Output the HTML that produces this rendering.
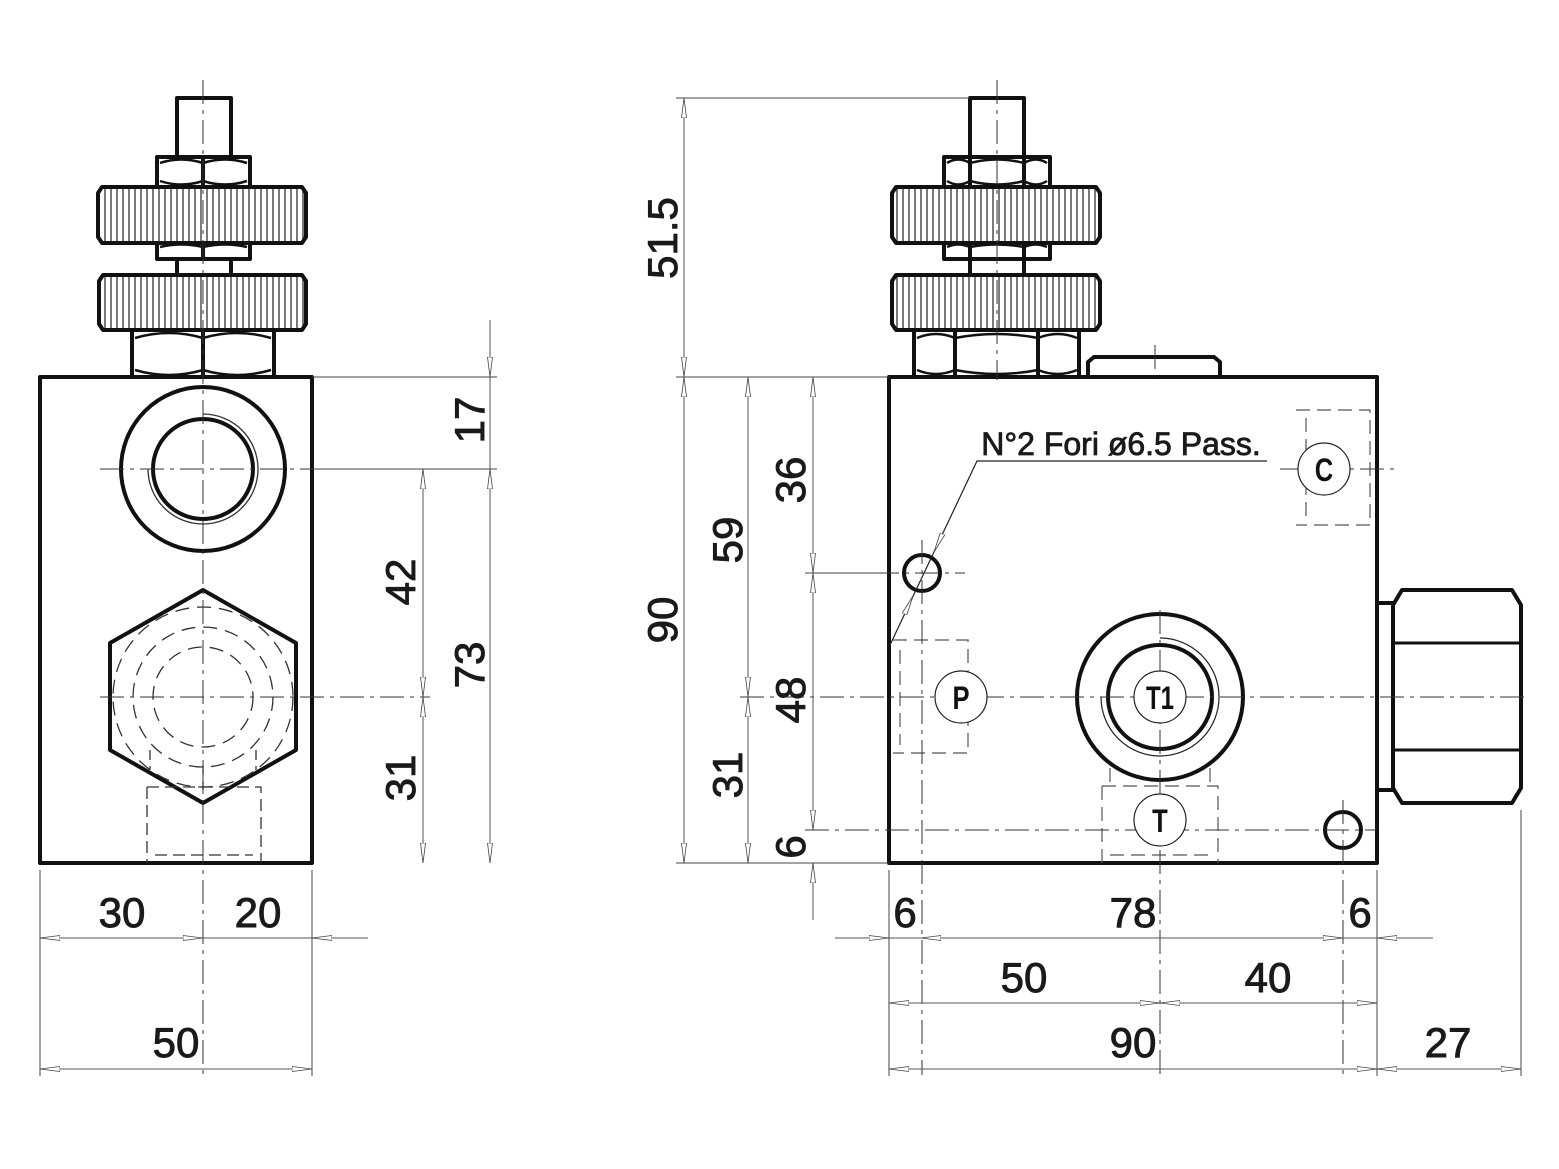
<!DOCTYPE html>
<html><head><meta charset="utf-8"><style>html,body{margin:0;padding:0;background:#fff}svg{display:block}</style></head>
<body>
<svg width="1559" height="1169" viewBox="0 0 1559 1169" xmlns="http://www.w3.org/2000/svg" font-family="Liberation Sans, sans-serif">
<defs>
<pattern id="kn" width="6" height="10" patternUnits="userSpaceOnUse"><rect width="6" height="10" fill="#fff"/><line x1="3" y1="0" x2="3" y2="10" stroke="#222" stroke-width="1.2"/></pattern>
<marker id="a" viewBox="0 0 20 6" refX="20" refY="3" markerWidth="20" markerHeight="6" markerUnits="userSpaceOnUse" orient="auto-start-reverse"><path d="M0,0.5 L20,3 L0,5.5 Z" fill="#fff" stroke="#444" stroke-width="0.8"/></marker>
</defs>
<g fill="none" stroke="#111" stroke-width="4" stroke-linejoin="round">
<rect x="40" y="377" width="272" height="486"/>
<rect x="177" y="98" width="54" height="59"/>
<path d="M157,157 H250 V187 H157 Z M203,157 V187"/>
<path d="M102,187 H302 L306,193 V237 L302,243 H102 L98,237 V193 Z" fill="url(#kn)"/>
<path d="M157,243 H250 V259 H157 Z M203,243 V259"/>
<rect x="177" y="259" width="54" height="16"/>
<path d="M103,275 H302 L306,281 V324 L302,330 H103 L99,324 V281 Z" fill="url(#kn)"/>
<path d="M132,330 H274 V377 H132 Z M203,330 V377"/>
<circle cx="203" cy="469" r="82"/>
<circle cx="203" cy="469" r="50"/>
<path d="M203,590 L296,643 V750 L203,803 L110,750 V643 Z"/>
</g>
<g fill="none" stroke="#111" stroke-width="2.5">
<path d="M160,163 Q181,156 203,163 Q225,156 247,163 M160,181 Q181,188 203,181 Q225,188 247,181"/>
<path d="M160,247 Q181,242 203,247 Q225,242 247,247"/>
<path d="M135,338 Q169,328 203,338 Q237,328 271,338 M135,370 Q169,380 203,370 Q237,380 271,370"/>
</g>
<g fill="none" stroke="#333" stroke-width="1.3">
<path d="M203,414 A55,55 0 1 1 148,469"/>
<path d="M150,750 V770 M256,750 V770 M203,765 V790" stroke-dasharray="10,6"/>
<circle cx="203" cy="697" r="90" stroke-dasharray="14,8"/>
<circle cx="203" cy="697" r="70" stroke-dasharray="14,8"/>
<circle cx="203" cy="697" r="50" stroke-dasharray="14,8"/>
<path d="M147,787 H261 V863 M147,787 V863 M155,855 H253" stroke-dasharray="12,6"/>
</g>
<g fill="none" stroke="#111" stroke-width="4" stroke-linejoin="round">
<rect x="889" y="377" width="488" height="486"/>
<rect x="970" y="98" width="54" height="59"/>
<path d="M944,157 H1050 V187 H944 Z M970,157 V187 M1024,157 V187"/>
<path d="M896,187 H1096 L1100,193 V237 L1096,243 H896 L892,237 V193 Z" fill="url(#kn)"/>
<path d="M944,243 H1050 V259 H944 Z M970,243 V259 M1024,243 V259"/>
<rect x="970" y="259" width="54" height="16"/>
<path d="M896,275 H1096 L1100,281 V324 L1096,330 H896 L892,324 V281 Z" fill="url(#kn)"/>
<path d="M914,330 H1079 V377 H914 Z M955,330 V377 M1038,330 V377"/>
<path d="M1088,377 V362 L1094,357 H1214 L1220,362 V377"/>
<circle cx="1160" cy="697" r="83"/>
<circle cx="1160" cy="697" r="52"/>
<circle cx="922" cy="573" r="18"/>
<circle cx="1343" cy="830" r="18"/>
<path d="M1377,603 H1393 V790 H1377"/>
<path d="M1402,590 H1512 L1521,605 V788 L1512,803 H1402 L1393,788 V605 Z"/>
<path d="M1393,643 H1521 M1393,750 H1521" stroke-width="3"/>
</g>
<g fill="none" stroke="#111" stroke-width="2.5">
<path d="M947,163 Q958,156 970,163 Q997,156 1024,163 Q1036,156 1047,163 M947,181 Q958,188 970,181 Q997,188 1024,181 Q1036,188 1047,181"/>
<path d="M947,247 Q958,242 970,247 Q997,242 1024,247 Q1036,242 1047,247"/>
<path d="M917,338 Q936,330 955,338 Q997,330 1038,338 Q1058,330 1077,338 M917,370 Q936,378 955,370 Q997,378 1038,370 Q1058,378 1077,370"/>
</g>
<g fill="none" stroke="#222" stroke-width="1.2">
<path d="M1160,638 A59,59 0 1 1 1101,697"/>
<g stroke="#555" stroke-dasharray="14,7">
<path d="M1296,410 H1370 V525 H1296 M1306,418 V517"/>
<path d="M893,640 H968 V753 H893 M900,650 V745"/>
<path d="M1102,786 H1218 V863 M1102,786 V863 M1110,855 H1210"/>
<path d="M1110,768 V786 M1210,768 V786"/>
</g>
<path d="M1267,461 H977 L890,645" stroke="#222"/>
</g>
<path d="M977,461 L934,552" stroke="none" marker-end="url(#a)"/>
<path d="M890,645 L913,596" stroke="none" marker-end="url(#a)"/>
<g stroke="#333" stroke-width="1" stroke-dasharray="24,6,4,6" fill="none">
<path d="M203,80 V1075"/>
<path d="M100,469 H320 M100,697 H430"/>
<path d="M997,80 V380"/>
<path d="M1155,345 V377"/>
<path d="M740,697 H1530"/>
<path d="M1160,610 V1075"/>
<path d="M805,830 H1377"/>
<path d="M1280,469 H1395"/>
<path d="M875,573 H965 M922,540 V1075"/>
<path d="M1343,800 V1075"/>
</g>
<g fill="#fff" stroke="#222" stroke-width="1.2">
<circle cx="1324" cy="469" r="26"/>
<circle cx="961" cy="697" r="26"/>
<circle cx="1160" cy="697" r="26"/>
<circle cx="1160" cy="820" r="26"/>
</g>
<g stroke="#444" stroke-width="1" fill="none">
<path d="M40,870 V1076 M312,870 V1076"/>
<path d="M312,377 H497 M312,469 H497"/>
<path d="M676,98 H970 M676,377 H889 M676,863 H889 M805,573 H880"/>
<path d="M889,870 V1076 M1377,870 V1076 M1521,810 V1076"/>
</g>
<g stroke="#555" stroke-width="1" fill="none">
<path d="M40,938 H203" marker-start="url(#a)" marker-end="url(#a)"/>
<path d="M203,938 H368"/>
<path d="M368,938 H312" marker-end="url(#a)"/>
<path d="M40,1069 H312" marker-start="url(#a)" marker-end="url(#a)"/>
<path d="M490,320 V377" marker-end="url(#a)"/>
<path d="M490,377 V469"/>
<path d="M490,469 V863" marker-start="url(#a)" marker-end="url(#a)"/>
<path d="M423,469 V697" marker-start="url(#a)" marker-end="url(#a)"/>
<path d="M423,697 V863" marker-start="url(#a)" marker-end="url(#a)"/>
<path d="M684,98 V377" marker-start="url(#a)" marker-end="url(#a)"/>
<path d="M684,377 V863" marker-start="url(#a)" marker-end="url(#a)"/>
<path d="M748,377 V697" marker-start="url(#a)" marker-end="url(#a)"/>
<path d="M748,697 V863" marker-start="url(#a)" marker-end="url(#a)"/>
<path d="M813,377 V573" marker-start="url(#a)" marker-end="url(#a)"/>
<path d="M813,573 V830" marker-start="url(#a)" marker-end="url(#a)"/>
<path d="M813,920 V863" marker-end="url(#a)"/>
<path d="M835,938 H889" marker-end="url(#a)"/>
<path d="M889,938 H921"/>
<path d="M921,938 H1343" marker-start="url(#a)" marker-end="url(#a)"/>
<path d="M1343,938 H1377"/>
<path d="M1433,938 H1377" marker-end="url(#a)"/>
<path d="M889,1003 H1160" marker-start="url(#a)" marker-end="url(#a)"/>
<path d="M1160,1003 H1377" marker-start="url(#a)" marker-end="url(#a)"/>
<path d="M889,1069 H1377" marker-start="url(#a)" marker-end="url(#a)"/>
<path d="M1377,1069 H1521" marker-start="url(#a)" marker-end="url(#a)"/>
</g>
<g font-size="42" fill="#1a1a1a" stroke="#1a1a1a" stroke-width="0.9" text-anchor="middle">
<text x="122" y="927">30</text>
<text x="258" y="927">20</text>
<text x="176" y="1057">50</text>
<text transform="translate(484,420) rotate(-90)">17</text>
<text transform="translate(484,665) rotate(-90)">73</text>
<text transform="translate(415,582) rotate(-90)">42</text>
<text transform="translate(415,778) rotate(-90)">31</text>
<text transform="translate(677,238) rotate(-90)">51.5</text>
<text transform="translate(677,620) rotate(-90)">90</text>
<text transform="translate(742,540) rotate(-90)">59</text>
<text transform="translate(742,775) rotate(-90)">31</text>
<text transform="translate(805,480) rotate(-90)">36</text>
<text transform="translate(805,700) rotate(-90)">48</text>
<text transform="translate(805,847) rotate(-90)">6</text>
<text x="905" y="927">6</text>
<text x="1133" y="927">78</text>
<text x="1360" y="927">6</text>
<text x="1024" y="992">50</text>
<text x="1268" y="992">40</text>
<text x="1133" y="1057">90</text>
<text x="1448" y="1057">27</text>
<text x="1121" y="455" font-size="32" stroke-width="0.8">N°2 Fori ø6.5 Pass.</text>
</g>
<g font-size="32" font-weight="bold" fill="#111" text-anchor="middle">
<text transform="translate(1324,481) scale(0.8,1)">C</text>
<text transform="translate(961,709) scale(0.8,1)">P</text>
<text transform="translate(1160,709) scale(0.75,1)">T1</text>
<text transform="translate(1160,832) scale(0.8,1)">T</text>
</g>
</svg>
</body></html>
